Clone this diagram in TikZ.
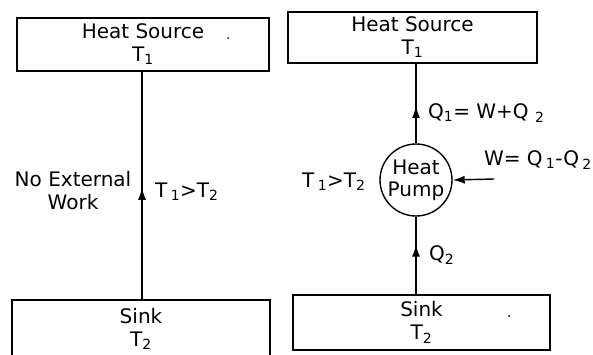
\documentclass[tikz,border=0pt]{standalone}
\usepackage{fontspec}
\setmainfont{DejaVu Sans}
\usetikzlibrary{arrows.meta,decorations.markings}
\tikzset{
  box/.style={draw, line width=1.6pt, inner sep=0pt, align=center, font=\fontsize{20}{23}\selectfont},
  lbl/.style={inner sep=0pt, font=\fontsize{20}{23}\selectfont},
  flow/.style={line width=1.4pt},
  midarrow/.style={postaction={decorate}, decoration={markings, mark=at position #1 with {\arrow{Latex[length=12pt,width=8pt]}}}},
  pump/.style={draw, circle, line width=1.4pt, minimum size=72pt, inner sep=0pt, align=center, font=\fontsize{20}{22}\selectfont}
}
\newcommand{\sbs}[1]{\textsubscript{#1}}
\begin{document}
\begin{tikzpicture}[x=1pt,y=-1pt]
\useasboundingbox (0,0) rectangle (593,354);
% left diagram
\node[box, minimum width=252pt, minimum height=53pt] (lsrc) at (143,44.5) {Heat Source\\T\sbs{1}};
\node[box, minimum width=258pt, minimum height=58pt] (lsink) at (141,329) {Sink\\T\sbs{2}};
\draw[flow, midarrow=0.49] (lsink.north -| 142,0) -- (lsrc.south -| 142,0);
\node[lbl, align=center] (noext) at (73,191) {No External\\Work};
\node[lbl, anchor=west] (lt) at (155,192) {T\,\sbs{1}>T\sbs{2}};
\fill (228,38) circle (1pt);
% right diagram
\node[box, minimum width=249pt, minimum height=51pt] (rsrc) at (412.5,37.5) {Heat Source\\T\sbs{1}};
\node[box, minimum width=257pt, minimum height=55pt] (rsink) at (421.5,322.5) {Sink\\T\sbs{2}};
\node[pump] (hp) at (416,180) {Heat\\Pump};
\draw[flow, midarrow=0.47] (hp.north) -- (rsrc.south -| hp.north);
\draw[flow, midarrow=0.64] (rsink.north -| hp.south) -- (hp.south);
\coordinate (wstart) at (494,179);
\draw[flow, -{Latex[length=12pt,width=8pt]}] (wstart) -- (hp.east);
\node[lbl, anchor=west] (q1) at (428,113) {Q\sbs{1}= W+Q \sbs{2}};
\node[lbl, anchor=east] (wl) at (592,160) {W= Q\,\sbs{1}-Q\,\sbs{2}};
\node[lbl, anchor=west] (rt) at (302,182) {T\,\sbs{1}>T\sbs{2}};
\node[lbl, anchor=west] (q2) at (429,255) {Q\sbs{2}};
\fill (509,316) circle (1pt);
\end{tikzpicture}
\end{document}
